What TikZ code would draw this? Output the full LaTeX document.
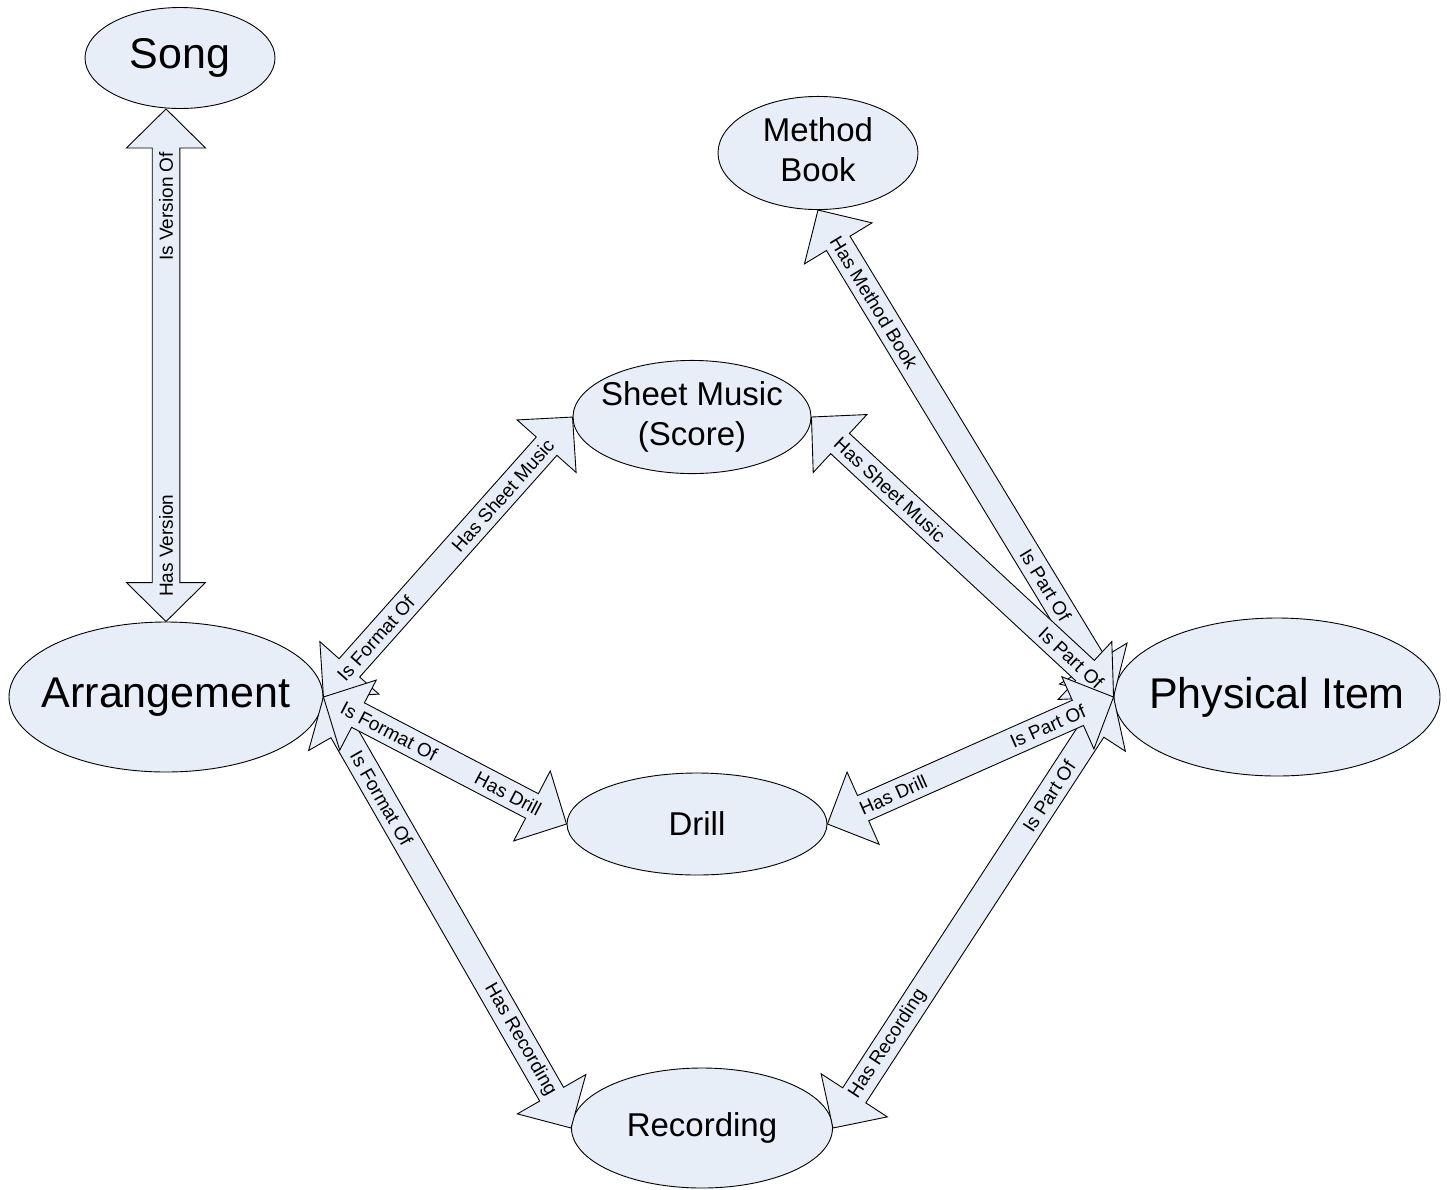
\documentclass[tikz,border=0pt]{standalone}
\usepackage{fontspec}
\setmainfont{Liberation Sans}
\usetikzlibrary{shapes.geometric, calc}

\definecolor{entityfill}{RGB}{232,238,247}

% sizes of the block arrows
\newcommand{\headlen}{39}
\newcommand{\headhalf}{39.5}
\newcommand{\shafthalf}{13.8}

% double block arrow from #1 to #2, label #3 at pos #4, label #5 at pos #6
\newcommand{\fatlink}[6]{%
  \draw[fatarrow] let \p1=(#1), \p2=(#2),
      \n1={atan2(\y2-\y1,\x2-\x1)}, \n2={veclen(\x2-\x1,\y2-\y1)} in
    [shift={(\p1)}, rotate=\n1]
    (0,0) -- (\headlen,\headhalf) -- (\headlen,\shafthalf)
    -- ({\n2-\headlen},\shafthalf) -- ({\n2-\headlen},\headhalf) -- (\n2,0)
    -- ({\n2-\headlen},-\headhalf) -- ({\n2-\headlen},-\shafthalf)
    -- (\headlen,-\shafthalf) -- (\headlen,-\headhalf) -- cycle
    ({#4*\n2},0) node[linklabel, rotate=\n1] {#3}
    ({#6*\n2},0) node[linklabel, rotate=\n1] {#5};
}

\tikzset{
  entity/.style={ellipse, draw, line width=0.9pt, fill=entityfill, inner sep=0pt},
  bigname/.style={font=\fontsize{43}{52}\selectfont},
  smallname/.style={font=\fontsize{33}{40}\selectfont},
  fatarrow/.style={draw, line width=0.9pt, fill=entityfill, line join=miter},
  linklabel/.style={font=\fontsize{19}{23}\selectfont, inner sep=0pt}
}

\begin{document}
\begin{tikzpicture}[x=1pt, y=-1pt]
    \useasboundingbox (0,0) rectangle (1447,1189);

    \node[entity, bigname, minimum width=190pt, minimum height=101pt] (song) at (180,58) {\makebox[0pt]{Song}};
    \node[entity, smallname, minimum width=200pt, minimum height=100pt] (method) at (818,153)
        {\makebox[0pt]{\begin{tabular}{@{}c@{}}Method\\Book\end{tabular}}};
    \node[entity, smallname, minimum width=238pt, minimum height=102pt] (sheet) at (692,417)
        {\makebox[0pt]{\begin{tabular}{@{}c@{}}Sheet Music\\(Score)\end{tabular}}};
    \node[entity, bigname, minimum width=314pt, minimum height=150pt] (arrangement) at (166,697) {\makebox[0pt]{Arrangement}};
    \node[entity, bigname, minimum width=326pt, minimum height=158pt] (physical) at (1277,697) {\makebox[0pt]{Physical Item}};
    \node[entity, smallname, minimum width=260pt, minimum height=102pt] (drill) at (697,824) {\makebox[0pt]{Drill}};
    \node[entity, smallname, minimum width=261pt, minimum height=120pt] (recording) at (702,1128) {\makebox[0pt]{Recording}};

    \fatlink{arrangement.north}{arrangement.north |- song.south}{Has Version}{0.148}{Is Version Of}{0.81}
    \fatlink{arrangement.east}{sheet.west}{Is Format Of}{0.21}{Has Sheet Music}{0.72}
    \fatlink{arrangement.east}{recording.west}{Is Format Of}{0.235}{Has Recording}{0.795}
    \fatlink{arrangement.east}{drill.west}{Is Format Of}{0.27}{Has Drill}{0.76}

    \fatlink{method.south}{physical.west}{Has Method Book}{0.19}{Is Part Of}{0.77}
    \fatlink{sheet.east}{physical.west}{Has Sheet Music}{0.26}{Is Part Of}{0.86}
    \fatlink{recording.east}{physical.west}{Has Recording}{0.195}{Is Part Of}{0.77}
    \fatlink{drill.east}{physical.west}{Has Drill}{0.23}{Is Part Of}{0.77}
\end{tikzpicture}
\end{document}
